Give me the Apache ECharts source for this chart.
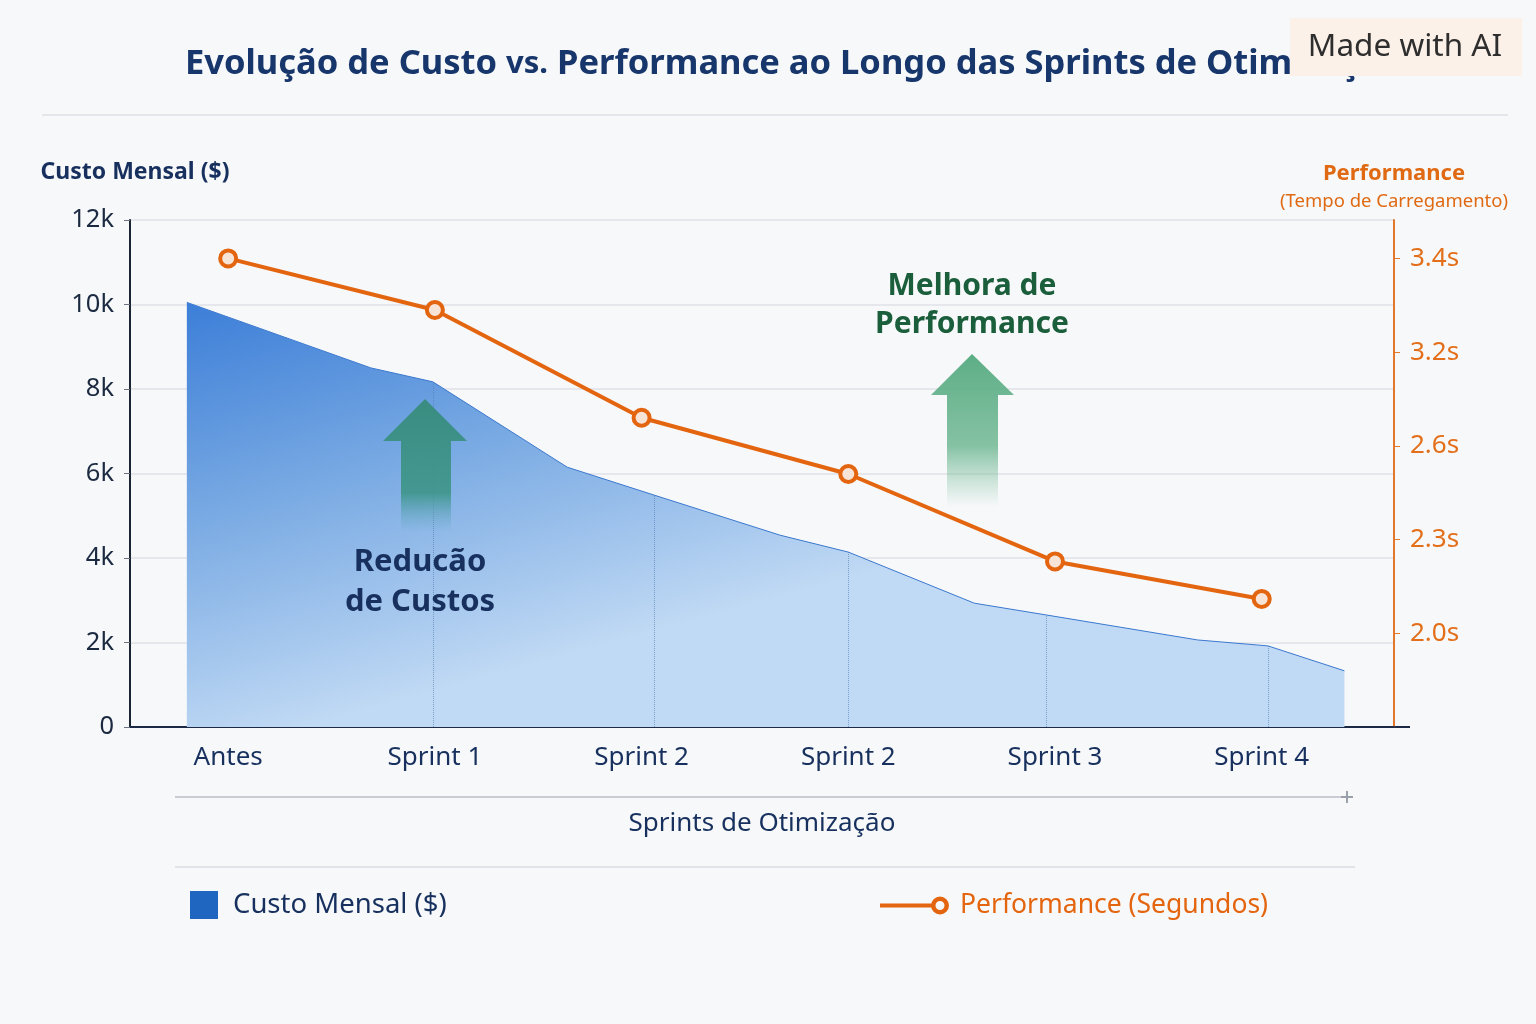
<!DOCTYPE html>
<html lang="pt-BR">
<head>
<meta charset="utf-8">
<title>Evolução de Custo vs. Performance</title>
<script src="https://cdn.jsdelivr.net/npm/echarts@6/dist/echarts.min.js"></script>
<style>
  html, body { margin: 0; padding: 0; background: #f7f8fa; }
  #chart { width: 1536px; height: 1024px; }
</style>
</head>
<body>
<div id="chart"></div>
<script>
// rótulos do eixo X (sprints)
const sprintLabels = ['Antes', 'Sprint 1', 'Sprint 2', 'Sprint 2', 'Sprint 3', 'Sprint 4'];

// custo mensal: vértices da área (posição no eixo das sprints) e valores em $
const costX = [-0.2, 0.69, 0.99, 1.64, 2.06, 2.67, 3.0, 3.61, 3.96, 4.69, 5.03, 5.4];
const costValues = [10050, 8500, 8170, 6150, 5490, 4540, 4140, 2930, 2650, 2060, 1920, 1330];
// vértices que recebem a linha pontilhada vertical
const costGuideIdx = [2, 4, 6, 8, 10];

// tempo de carregamento por sprint (segundos)
const perfSeconds = [3.4, 3.29, 2.78, 2.51, 2.23, 2.11];
// rótulos do eixo direito, desenhados com espaçamento igual
const perfTicks = [2.0, 2.3, 2.6, 3.2, 3.4];

// o eixo direito é por "degraus": cada rótulo ocupa uma posição (1..5)
function toSlot(s) {
    const last = perfTicks.length - 2;
    for (let i = 0; i <= last; i++) {
        if (s <= perfTicks[i + 1] || i === last) {
            return i + 1 + (s - perfTicks[i]) / (perfTicks[i + 1] - perfTicks[i]);
        }
    }
}

const FONT = 'Noto Sans';
const NAVY = '#17305e';
const ORANGE = '#e4650f';

const chart = echarts.init(document.getElementById('chart'));

const arrowCost = [[425, 399], [467, 441], [451, 441], [451, 533], [401, 533], [401, 441], [383, 441]];
const arrowPerf = [[972, 354], [1014, 395], [998, 395], [998, 507], [947, 507], [947, 395], [931, 395]];

const option = {
    backgroundColor: '#f7f8fa',
    animation: false,
    textStyle: { fontFamily: FONT },
    title: {
        text: '{b|Evolução de Custo }{v|vs.}{b| Performance ao Longo das Sprints de Otimização}',
        left: 180,
        top: 37,
        textStyle: {
            rich: {
                b: { fontSize: 34.5, fontWeight: 'bold', color: '#17366b', fontFamily: FONT, lineHeight: 44 },
                v: { fontSize: 31, color: '#17366b', fontFamily: FONT, lineHeight: 44 }
            }
        }
    },
    tooltip: { trigger: 'item' },
    legend: [
        {
            left: 190,
            top: 891,
            padding: 0,
            itemWidth: 28,
            itemHeight: 28,
            data: [{ name: 'Custo Mensal ($)', icon: 'rect', itemStyle: { color: '#1f66c1', borderWidth: 0 } }],
            textStyle: { fontSize: 27.5, color: NAVY, padding: [0, 0, 0, 10] }
        },
        {
            left: 880,
            top: 892,
            padding: 0,
            itemWidth: 69,
            itemHeight: 18,
            data: [{
                name: 'Performance (Segundos)',
                icon: 'path://M0,7 L52,7 L52,11 L0,11 Z M60,0 A9,9 0 1,1 60,18 A9,9 0 1,1 60,0 Z M60,4.5 A4.5,4.5 0 1,0 60,13.5 A4.5,4.5 0 1,0 60,4.5 Z',
                itemStyle: { color: ORANGE, borderWidth: 0 }
            }],
            textStyle: { fontSize: 26.5, color: ORANGE, padding: [0, 0, 0, 6] }
        }
    ],
    grid: { left: 130, right: 142, top: 220, bottom: 297 },
    xAxis: {
        type: 'value',
        min: -0.475,
        max: 5.64,
        name: 'Sprints de Otimização',
        nameLocation: 'middle',
        nameGap: 84,
        nameTextStyle: { fontSize: 26, color: NAVY },
        axisLine: { show: true, lineStyle: { color: '#1c2a45', width: 2 } },
        axisTick: { show: false },
        splitLine: { show: false },
        axisLabel: {
            customValues: [0, 1, 2, 3, 4, 5],
            formatter: v => sprintLabels[Math.round(v)],
            fontSize: 26,
            color: NAVY,
            margin: 18
        }
    },
    yAxis: [
        {
            type: 'value',
            min: 0,
            max: 12000,
            interval: 2000,
            name: 'Custo Mensal ($)',
            nameLocation: 'end',
            nameGap: 36,
            nameTextStyle: { fontSize: 23, fontWeight: 'bold', color: NAVY, align: 'center', padding: [0, 0, 0, 10] },
            axisLine: { show: true, onZero: false, lineStyle: { color: '#1b2433', width: 2 } },
            axisTick: { show: true, length: 6, lineStyle: { color: '#6b7280' } },
            axisLabel: {
                fontSize: 25.5,
                color: '#1b2a40',
                margin: 16,
                formatter: v => (v === 0 ? '0' : v / 1000 + 'k')
            },
            splitLine: { lineStyle: { color: '#dfe2e7', width: 1.5 } }
        },
        {
            type: 'value',
            position: 'right',
            min: 0,
            max: 5.41,
            name: '{a|Performance}\n{b|(Tempo de Carregamento)}',
            nameLocation: 'end',
            nameGap: 4,
            nameTextStyle: {
                align: 'center',
                rich: {
                    a: { fontSize: 22, fontWeight: 'bold', color: '#e06a14', fontFamily: FONT, lineHeight: 28 },
                    b: { fontSize: 18.5, color: '#e06a14', fontFamily: FONT, lineHeight: 28 }
                }
            },
            axisLine: { show: true, onZero: false, lineStyle: { color: '#e2772e', width: 2 } },
            axisTick: { show: true, length: 6, customValues: [1, 2, 3, 4, 5], lineStyle: { color: '#e2772e' } },
            axisLabel: {
                customValues: [1, 2, 3, 4, 5],
                formatter: v => perfTicks[Math.round(v) - 1].toFixed(1) + 's',
                fontSize: 26,
                color: '#e36f1a',
                margin: 16
            },
            splitLine: { show: false }
        }
    ],
    series: [
        {
            name: 'Custo Mensal ($)',
            type: 'line',
            yAxisIndex: 0,
            symbol: 'none',
            data: costX.map((x, i) => [x, costValues[i]]),
            lineStyle: { color: '#3a78cf', width: 1 },
            itemStyle: { color: '#1f66c1' },
            areaStyle: {
                opacity: 1,
                color: {
                    type: 'linear',
                    x: 0, y: 0, x2: 0.1, y2: 1,
                    colorStops: [
                        { offset: 0, color: '#3c7ed8' },
                        { offset: 0.45, color: '#75a7e2' },
                        { offset: 1, color: '#c0d9f4' }
                    ]
                }
            },
            markLine: {
                silent: true,
                symbol: 'none',
                label: { show: false },
                lineStyle: { type: 'dotted', color: '#4d78b0', width: 1, opacity: 0.6 },
                data: costGuideIdx.map(i => [
                    { coord: [costX[i], 0] },
                    { coord: [costX[i], costValues[i]] }
                ])
            },
            z: 2
        },
        {
            name: 'Performance (Segundos)',
            type: 'line',
            yAxisIndex: 1,
            data: perfSeconds.map((s, i) => [i, toSlot(s)]),
            symbol: 'circle',
            symbolSize: 16,
            lineStyle: { color: ORANGE, width: 4 },
            itemStyle: { color: '#f8e4d6', borderColor: ORANGE, borderWidth: 4 },
            z: 4
        }
    ],
    graphic: [
        // separadores e seta do eixo X
        { type: 'line', silent: true, shape: { x1: 42, y1: 115, x2: 1508, y2: 115 }, style: { stroke: '#e3e6ea', lineWidth: 2 } },
        { type: 'line', silent: true, shape: { x1: 175, y1: 797, x2: 1345, y2: 797 }, style: { stroke: '#c9cdd3', lineWidth: 2 } },
        { type: 'line', silent: true, shape: { x1: 1341, y1: 797, x2: 1353, y2: 797 }, style: { stroke: '#9aa1aa', lineWidth: 2 } },
        { type: 'line', silent: true, shape: { x1: 1347, y1: 791, x2: 1347, y2: 803 }, style: { stroke: '#9aa1aa', lineWidth: 2 } },
        { type: 'line', silent: true, shape: { x1: 175, y1: 867, x2: 1355, y2: 867 }, style: { stroke: '#e0e3e7', lineWidth: 2 } },
        { type: 'line', silent: true, shape: { x1: 1394, y1: 727, x2: 1410, y2: 727 }, style: { stroke: '#1c2a45', lineWidth: 2 } },
        // setas de anotação
        {
            type: 'polygon', silent: true, z: 10,
            shape: { points: arrowCost },
            style: {
                fill: {
                    type: 'linear', x: 0, y: 0, x2: 0, y2: 1,
                    colorStops: [
                        { offset: 0, color: 'rgba(58,140,128,1)' },
                        { offset: 0.7, color: 'rgba(62,150,138,0.92)' },
                        { offset: 1, color: 'rgba(100,170,200,0)' }
                    ]
                }
            }
        },
        {
            type: 'polygon', silent: true, z: 10,
            shape: { points: arrowPerf },
            style: {
                fill: {
                    type: 'linear', x: 0, y: 0, x2: 0, y2: 1,
                    colorStops: [
                        { offset: 0, color: 'rgba(84,170,128,0.95)' },
                        { offset: 0.6, color: 'rgba(104,180,142,0.8)' },
                        { offset: 1, color: 'rgba(130,195,160,0)' }
                    ]
                }
            }
        },
        {
            type: 'text', silent: true, z: 11,
            style: {
                text: 'Reducão\nde Custos', x: 420, y: 582,
                fontSize: 31, fontWeight: 'bold', fontFamily: FONT, lineHeight: 40,
                fill: NAVY, align: 'center', verticalAlign: 'middle'
            }
        },
        {
            type: 'text', silent: true, z: 11,
            style: {
                text: 'Melhora de\nPerformance', x: 972, y: 305,
                fontSize: 30, fontWeight: 'bold', fontFamily: FONT, lineHeight: 38,
                fill: '#1b5e3b', align: 'center', verticalAlign: 'middle'
            }
        },
        // selo
        {
            type: 'group', z: 100,
            children: [
                { type: 'rect', shape: { x: 1290, y: 18, width: 232, height: 58 }, style: { fill: '#fcf1e8' }, z: 100 },
                {
                    type: 'text', z: 101,
                    style: {
                        text: 'Made with AI', x: 1405, y: 47,
                        fontSize: 31.5, fontFamily: FONT, fill: '#2e2e2e',
                        align: 'center', verticalAlign: 'middle'
                    }
                }
            ]
        }
    ]
};

chart.setOption(option);
window.addEventListener('resize', () => chart.resize());
</script>
</body>
</html>
